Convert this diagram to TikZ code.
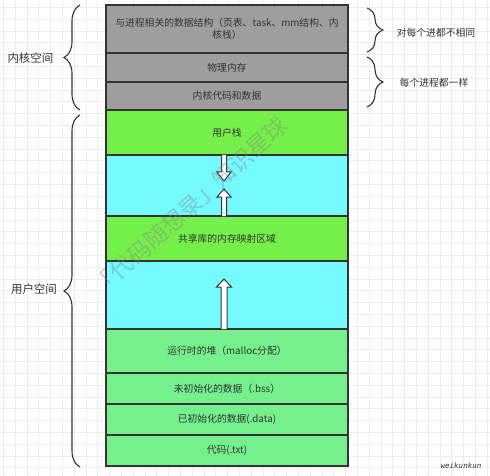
\documentclass[tikz,border=0pt]{standalone}
\usepackage{fontspec}
\setmainfont{Noto Sans CJK SC}
\newfontfamily\signfont{DejaVu Sans Mono}
\usetikzlibrary{decorations.pathreplacing}
\definecolor{kgray}{HTML}{9E9E9E}
\definecolor{lime}{HTML}{75F04B}
\definecolor{aqua}{HTML}{75FAFF}
\definecolor{mint}{HTML}{75F08D}
\definecolor{ink}{HTML}{333333}
\definecolor{gridc}{HTML}{ECECEC}
\tikzset{
  seg/.style={draw=ink, line width=1.2pt, minimum width=242pt, inner sep=0pt,
    text=ink, font=\fontsize{9.8}{12}\selectfont, align=center},
  side/.style={text=ink, font=\fontsize{9.8}{12}\selectfont},
  curly/.style={draw=ink, line width=1.1pt, decorate,
    decoration={brace, amplitude=16pt}},
  hollow/.style={draw=ink, line width=1pt, fill=white},
}
\newcommand{\blockarrow}[5]{% x, tail, head base, tip, half width of shaft
  \draw[hollow] (#1-#5,#2) -- (#1-#5,#3) -- (#1-#5-4.5,#3) -- (#1,#4)
    -- (#1+#5+4.5,#3) -- (#1+#5,#3) -- (#1+#5,#2);}
\begin{document}
\begin{tikzpicture}[x=1pt, y=-1pt]
  \useasboundingbox (0,0) rectangle (490,476);
  \fill[white] (0,0) rectangle (490,476);
  % grid
  \foreach \i in {0,...,41}
    \draw[gridc, line width=0.6pt] (3.3+\i*11.8,0) -- (3.3+\i*11.8,476);
  \foreach \i in {0,...,40}
    \draw[gridc, line width=0.6pt] (0,7.4+\i*11.8) -- (490,7.4+\i*11.8);
  % kernel space
  \node[seg, fill=kgray, minimum height=48pt] (ktask) at (227, 29)
    {与进程相关的数据结构（页表、task、mm结构、内\\核栈）};
  \node[seg, fill=kgray, minimum height=29pt] (kphys) at (227, 67.5) {物理内存};
  \node[seg, fill=kgray, minimum height=28pt] (kcode) at (227, 96) {内核代码和数据};
  % user space
  \node[seg, fill=lime, minimum height=45pt] (ustack) at (227, 132.5) {用户栈};
  \node[seg, fill=aqua, minimum height=61pt] (gapa) at (227, 185.5) {};
  \node[seg, fill=lime, minimum height=45pt] (mmap) at (227, 238.5) {共享库的内存映射区域};
  \node[seg, fill=aqua, minimum height=68pt] (gapb) at (227, 295) {};
  \node[seg, fill=mint, minimum height=44pt] (heap) at (227, 351) {运行时的堆（malloc分配）};
  \node[seg, fill=mint, minimum height=31pt] (bss) at (227, 388.5) {未初始化的数据（.bss）};
  \node[seg, fill=mint, minimum height=31pt] (data) at (227, 419.5) {已初始化的数据(.data)};
  \node[seg, fill=mint, minimum height=31pt] (txt) at (227, 450.5) {代码(.txt)};
  % arrows
  \blockarrow{224}{155}{172}{181}{2.5}
  \blockarrow{224}{216}{197}{189}{2.5}
  \blockarrow{224}{329}{287}{279}{3}
  % braces
  \coordinate (kb) at (80, 110);
  \coordinate (kt) at (80, 5);
  \coordinate (ub) at (80, 467);
  \coordinate (ut) at (80, 115);
  \coordinate (da) at (367, 8);
  \coordinate (db) at (367, 52);
  \coordinate (sa) at (367, 57);
  \coordinate (sb) at (367, 107);
  \draw[curly] (kb) -- (kt);
  \draw[curly] (ub) -- (ut);
  \draw[curly] (da) -- (db);
  \draw[curly] (sa) -- (sb);
  \node[side, font=\fontsize{11.5}{13}\selectfont] (kspace) at (30.5, 58) {内核空间};
  \node[side, font=\fontsize{11.5}{13}\selectfont] (uspace) at (34, 289) {用户空间};
  \node[side] (differ) at (436, 33) {对每个进都不相同};
  \node[side] (same) at (434, 83) {每个进程都一样};
  % watermark and signature
  \node[text=gray, opacity=0.38, rotate=42, font=\fontsize{23}{25}\selectfont] (mark) at (190, 206)
    {「代码随想录」知识星球};
  \node[text=ink, font=\signfont\itshape\fontsize{7.5}{9}\selectfont] (sign) at (461, 466) {weikunkun};
\end{tikzpicture}
\end{document}
